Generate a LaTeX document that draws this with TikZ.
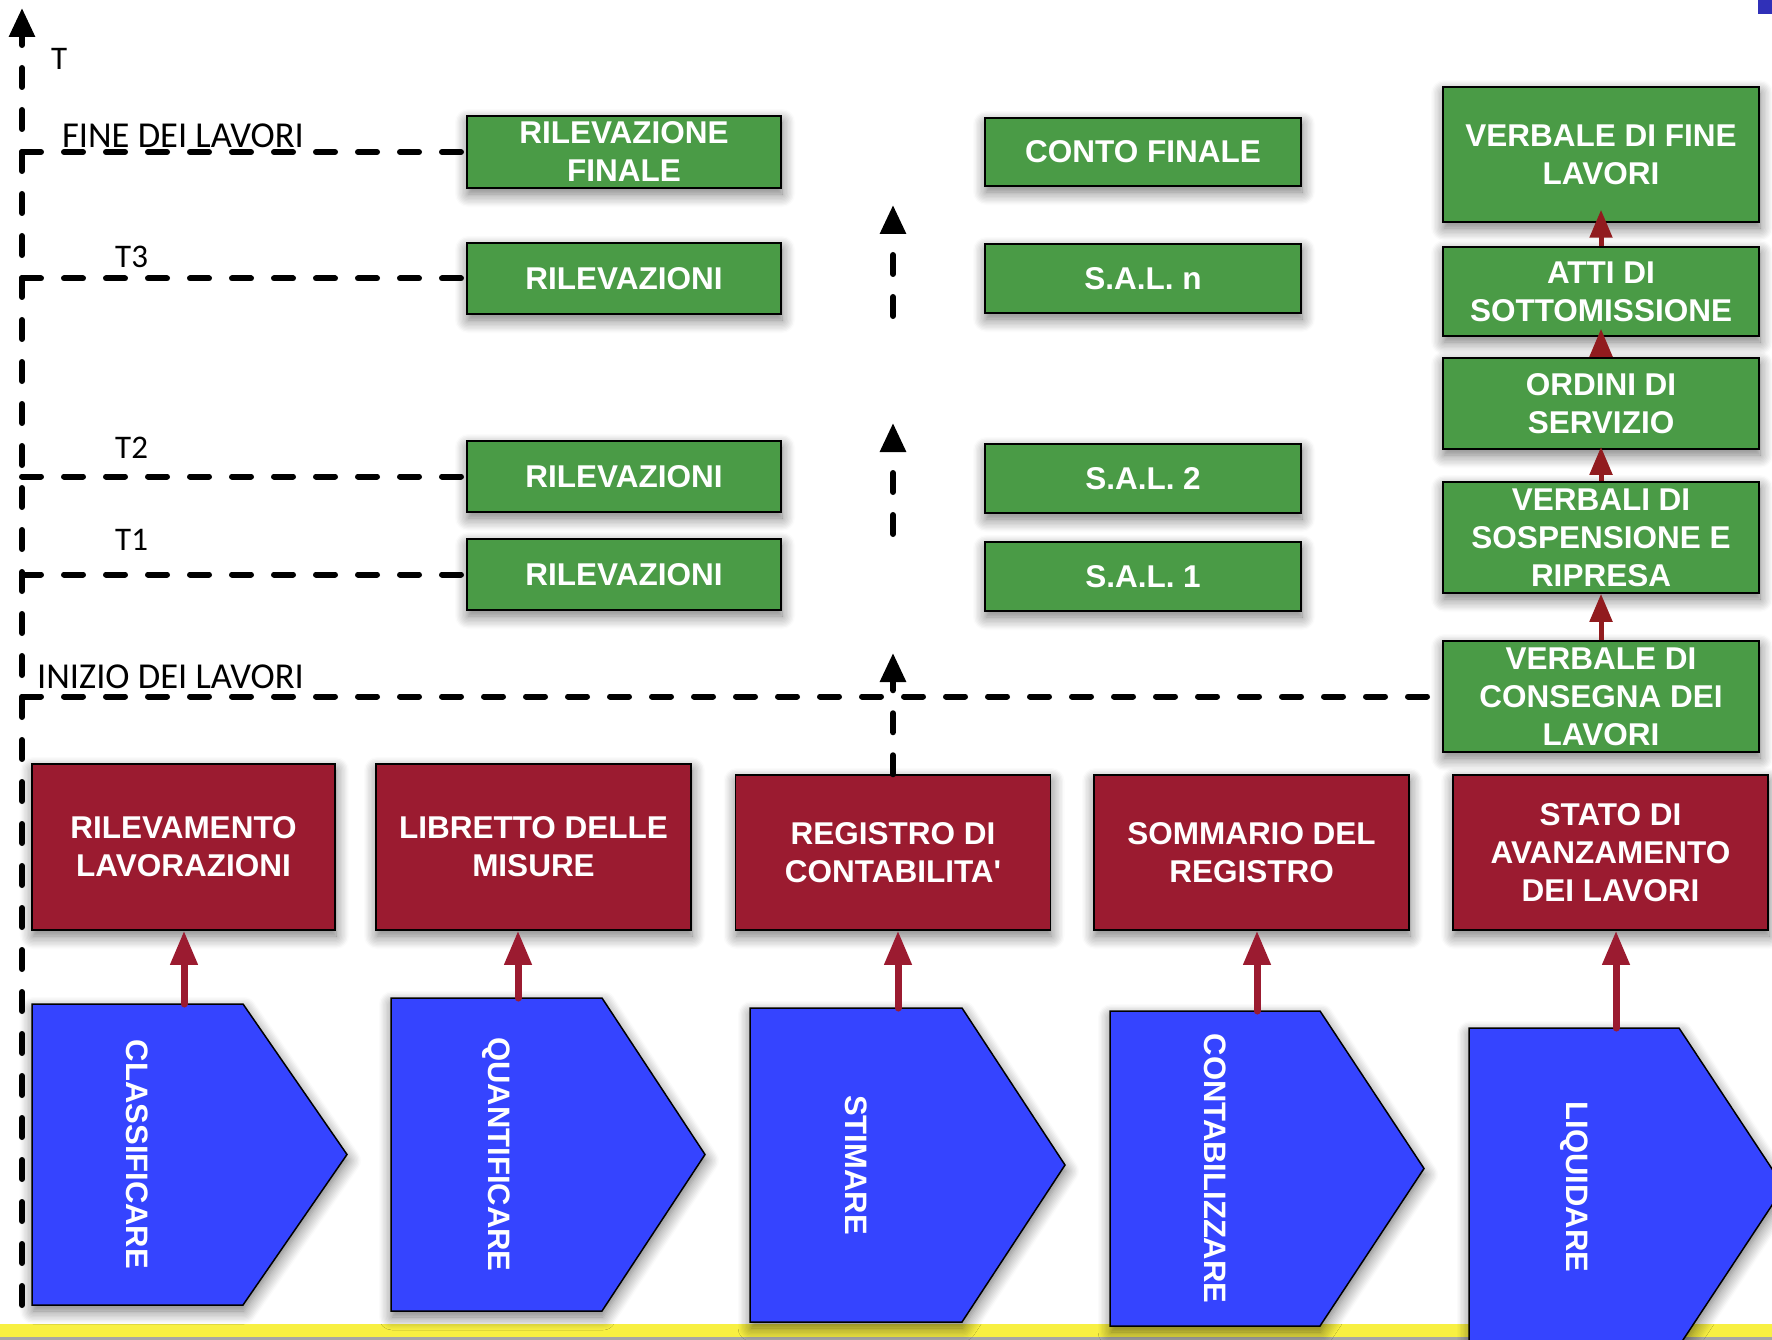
\documentclass[tikz,border=0pt]{standalone}
\usepackage{fontspec}
\setmainfont{Liberation Sans}
\newfontfamily\labelfont{Carlito}
\usetikzlibrary{arrows.meta,shadows.blur}

\definecolor{boxgreen}{RGB}{74,155,70}
\definecolor{boxred}{RGB}{155,27,48}
\definecolor{boxblue}{RGB}{53,68,255}
\definecolor{tipred}{RGB}{145,27,30}
\definecolor{bandyellow}{RGB}{248,240,66}
\definecolor{cornerblue}{RGB}{48,48,184}

% straight apostrophe, set as a glyph so the TeX mapping keeps it straight
\newcommand{\straightquote}{\XeTeXglyph\XeTeXcharglyph"27\relax}

\tikzset{
  soft/.style={blur shadow={shadow xshift=1pt, shadow yshift=-6pt,
      shadow blur radius=13pt, shadow blur steps=10, shadow opacity=55}},
  card/.style={draw=black, line width=1.5pt, text=white, align=center,
      inner sep=0pt, font=\bfseries\fontsize{31.5}{38}\selectfont, soft},
  gbox/.style={card, fill=boxgreen, minimum width=316pt},
  rbox/.style={card, fill=boxred, minimum width=315pt, minimum height=155pt},
  phase/.style={draw=black, line width=1.5pt, fill=boxblue, soft},
  phasetext/.style={text=white, rotate=-90, inner sep=0pt,
      font=\bfseries\fontsize{31}{38}\selectfont},
  marker/.style={text=black, inner sep=0pt, anchor=base west,
      font=\labelfont\fontsize{33}{38}\selectfont},
  longmarker/.style={marker, font=\labelfont\fontsize{36.5}{40}\selectfont},
  timeline/.style={draw=black, line width=6pt, line cap=round,
      dash pattern=on 19pt off 23pt},
  timetip/.style={-{Triangle[width=25pt,length=29pt]}},
  feedarrow/.style={draw=boxred, line width=7pt, line cap=round,
      -{Triangle[width=26pt,length=34pt]}},
  steparrow/.style={draw=tipred, line width=5pt,
      -{Triangle[width=22pt,length=28pt]}},
}

\begin{document}
\begin{tikzpicture}[x=1pt,y=-1pt]
  \useasboundingbox (0,0) rectangle (1772,1340);

  % bottom band and corner mark
  \fill[bandyellow] (0,1324) rectangle (1772,1337);
  \fill[gray!70] (0,1337) rectangle (1772,1340);
  \fill[cornerblue] (1758,0) rectangle (1772,14);

  % operation phases (pentagon arrows)
  \path[phase] (32,1004) -- (243,1004) -- (347,1154.5) -- (243,1305) -- (32,1305) -- cycle;
  \path[phase] (391,998) -- (602,998) -- (705,1154.5) -- (602,1311) -- (391,1311) -- cycle;
  \path[phase] (750,1008) -- (962,1008) -- (1065,1165) -- (962,1322) -- (750,1322) -- cycle;
  \path[phase] (1110,1011) -- (1320,1011) -- (1424,1168.5) -- (1320,1326) -- (1110,1326) -- cycle;
  \path[phase] (1469,1028) -- (1679,1028) -- (1784,1187) -- (1679,1346) -- (1469,1346) -- cycle;
  \node[phasetext] (p1) at (137.5,1154.5) {CLASSIFICARE};
  \node[phasetext] (p2) at (496.5,1154.5) {QUANTIFICARE};
  \node[phasetext] (p3) at (856,1165) {STIMARE};
  \node[phasetext] (p4) at (1215,1168.5) {CONTABILIZZARE};
  \node[phasetext] (p5) at (1574,1187) {LIQUIDARE};

  % accounting documents
  \node[rbox, minimum width=303pt, minimum height=166pt] (r1) at (183.5,847) {RILEVAMENTO\\LAVORAZIONI};
  \node[rbox, minimum height=166pt] (r2) at (533.5,847) {LIBRETTO DELLE\\MISURE};
  \node[rbox] (r3) at (893,852.5) {REGISTRO DI\\CONTABILITA\straightquote};
  \node[rbox] (r4) at (1251.5,852.5) {SOMMARIO DEL\\REGISTRO};
  \node[rbox] (r5) at (1610.5,852.5) {STATO DI\\AVANZAMENTO\\DEI LAVORI};

  % measurements
  \node[gbox, minimum width=314pt, minimum height=72pt] (g1) at (624,152) {RILEVAZIONE\\FINALE};
  \node[gbox, minimum width=314pt, minimum height=71pt] (g2) at (624,278.5) {RILEVAZIONI};
  \node[gbox, minimum width=314pt, minimum height=71pt] (g3) at (624,476.5) {RILEVAZIONI};
  \node[gbox, minimum width=314pt, minimum height=71pt] (g4) at (624,574.5) {RILEVAZIONI};

  % progress statements
  \node[gbox, minimum height=68pt] (s4) at (1143,152) {CONTO FINALE};
  \node[gbox, minimum height=69pt] (s3) at (1143,278.5) {S.A.L. n};
  \node[gbox, minimum height=69pt] (s2) at (1143,478.5) {S.A.L. 2};
  \node[gbox, minimum height=69pt] (s1) at (1143,576.5) {S.A.L. 1};

  % site records
  \node[gbox, minimum height=135pt] (v5) at (1601,154.5) {VERBALE DI FINE\\LAVORI};
  \node[gbox, minimum height=89pt] (v4) at (1601,291.5) {ATTI DI\\SOTTOMISSIONE};
  \node[gbox, minimum height=91pt] (v3) at (1601,403.5) {ORDINI DI\\SERVIZIO};
  \node[gbox, minimum height=111pt] (v2) at (1601,537.5) {VERBALI DI\\SOSPENSIONE E\\RIPRESA};
  \node[gbox, minimum height=111pt] (v1) at (1601,696.5) {VERBALE DI\\CONSEGNA DEI\\LAVORI};

  % time axis
  \coordinate (axbot) at (22,1305);
  \coordinate (axtop) at (22,8);
  \draw[timeline, timetip] (axbot) -- (axtop);
  \node[marker] (lt) at (51,70) {T};
  \node[longmarker] (lfine) at (62,148) {FINE DEI LAVORI};
  \node[marker] (lt3) at (115,268) {T3};
  \node[marker] (lt2) at (115,458) {T2};
  \node[marker] (lt1) at (115,550) {T1};
  \node[longmarker] (linizio) at (37,688) {INIZIO DEI LAVORI};

  % milestones
  \draw[timeline] (g1.west -| axtop) -- (g1.west);
  \draw[timeline] (g2.west -| axtop) -- (g2.west);
  \draw[timeline] (g3.west -| axtop) -- (g3.west);
  \draw[timeline] (g4.west -| axtop) -- (g4.west);
  \draw[timeline] (v1.west -| axtop) -- (v1.west);

  % progress of the accounting register
  \coordinate (mb1) at (893,316);
  \coordinate (mt1) at (893,205);
  \coordinate (mb2) at (893,534);
  \coordinate (mt2) at (893,423);
  \coordinate (mt3) at (893,653);
  \draw[timeline, timetip] (mb1) -- (mt1);
  \draw[timeline, timetip] (mb2) -- (mt2);
  \draw[timeline, timetip] (r3.north) -- (mt3);

  % site record sequence
  \draw[steparrow] (v1.north) -- (v2.south);
  \draw[steparrow, shorten >=-3pt] (v2.north) -- (v3.south);
  \draw[steparrow, shorten >=-8pt] (v3.north) -- (v4.south);
  \draw[steparrow, shorten >=-13pt] (v4.north) -- (v5.south);

  % phases feed the documents
  \coordinate (f1) at (184,1004);
  \coordinate (f2) at (518,998);
  \coordinate (f3) at (898,1008);
  \coordinate (f4) at (1257,1011);
  \coordinate (f5) at (1616,1028);
  \draw[feedarrow] (f1) -- (f1 |- r1.south);
  \draw[feedarrow] (f2) -- (f2 |- r2.south);
  \draw[feedarrow] (f3) -- (f3 |- r3.south);
  \draw[feedarrow] (f4) -- (f4 |- r4.south);
  \draw[feedarrow] (f5) -- (f5 |- r5.south);
\end{tikzpicture}
\end{document}
